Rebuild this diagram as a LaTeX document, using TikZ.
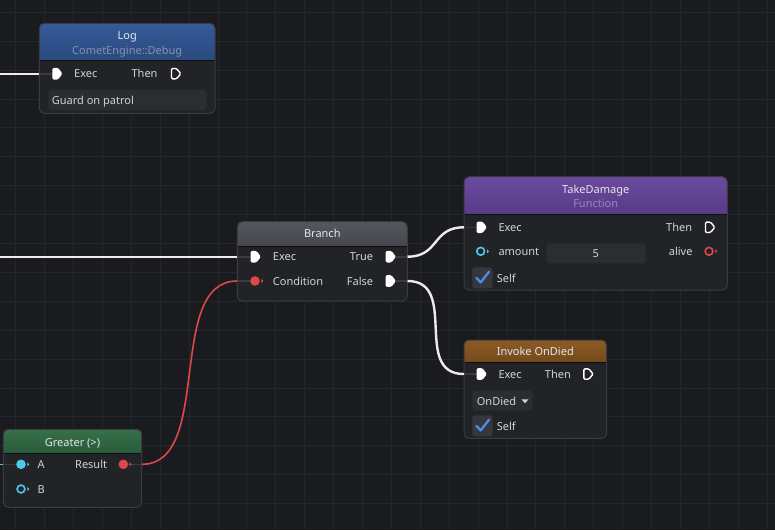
\documentclass[tikz,border=0pt]{standalone}
\usepackage{fontspec}
\setmainfont{Noto Sans}
\usetikzlibrary{fit}
\definecolor{bgc}{HTML}{1A1B1F}
\definecolor{gridc}{HTML}{25262B}
\definecolor{bodyc}{HTML}{222327}
\definecolor{borderc}{HTML}{3A3B41}
\definecolor{stubc}{HTML}{3A3B41}
\definecolor{fieldc}{HTML}{2C2D32}
\definecolor{labelc}{HTML}{D2D3D6}
\definecolor{titlec}{HTML}{E4E6EA}
\definecolor{loghA}{HTML}{36599A}
\definecolor{loghB}{HTML}{2A4A7C}
\definecolor{brhA}{HTML}{55565E}
\definecolor{brhB}{HTML}{45464E}
\definecolor{tdhA}{HTML}{6A4A9E}
\definecolor{tdhB}{HTML}{573A88}
\definecolor{invhA}{HTML}{8C5C26}
\definecolor{invhB}{HTML}{73481A}
\definecolor{grhA}{HTML}{367048}
\definecolor{grhB}{HTML}{2A5A3B}
\definecolor{logsub}{HTML}{8293B2}
\definecolor{tdsub}{HTML}{9985BA}
\definecolor{wirec}{HTML}{ECECEC}
\definecolor{redc}{HTML}{DD4848}
\definecolor{cyanc}{HTML}{4DC9EA}
\definecolor{checkc}{HTML}{4A8DE6}
\definecolor{boxc}{HTML}{35373D}
\newcommand{\lbfont}{\fontsize{11}{13}\selectfont}
\newcommand{\gbox}[8]{%
  \fill[bodyc, rounded corners=5pt] (#2,#3) rectangle (#4,#5);
  \begin{scope}
    \clip[rounded corners=5pt] (#2,#3) rectangle (#4,#5);
    \shade[top color=#7, bottom color=#8] (#2,#3) rectangle (#4,#6);
    \draw[black!60!bodyc, line width=1pt] (#2,#6) -- (#4,#6);
  \end{scope}
  \draw[borderc, line width=1pt, rounded corners=5pt] (#2,#3) rectangle (#4,#5);
  \node[fit={(#2,#3) (#4,#5)}, inner sep=0pt] (#1) {};
}
\tikzset{
  x=1pt, y=-1pt,
  lbl/.style={anchor=base west, inner sep=0pt, text=labelc, font=\lbfont},
  lbr/.style={anchor=base east, inner sep=0pt, text=labelc, font=\lbfont},
  ttl/.style={anchor=base, inner sep=0pt, text=titlec, font=\lbfont},
  wire/.style={wirec, line width=2.4pt},
  redwire/.style={redc, line width=1.6pt},
  stub/.style={stubc, line width=1.6pt},
  field/.style={fieldc, rounded corners=3pt},
  execF/.pic={\fill[white, rounded corners=1.3pt] (-5,-5.8) -- (0.8,-5.8) -- (5.2,0) -- (0.8,5.8) -- (-5,5.8) -- cycle;},
  execH/.pic={\draw[white, line width=1.4pt, rounded corners=1.2pt, line join=round] (-4.5,-5.2) -- (0.5,-5.2) -- (4.8,0) -- (0.5,5.2) -- (-4.5,5.2) -- cycle;},
  dataF/.pic={\fill[#1] (0,0) circle (4.8pt); \fill[#1] (6.3,-2) -- (8.3,0) -- (6.3,2) -- cycle;},
  dataH/.pic={\draw[#1, line width=1.6pt] (0,0) circle (3.9pt); \fill[#1] (6.3,-2) -- (8.3,0) -- (6.3,2) -- cycle;},
  checkbox/.pic={\fill[boxc, rounded corners=3pt] (-10.2,-10.5) rectangle (10.2,10.5);
     \draw[checkc, line width=2.3pt, line cap=round, line join=round] (-6,0.2) -- (-1.8,4.6) -- (6.6,-6.2);},
}
\begin{document}
\begin{tikzpicture}
\useasboundingbox (0,0) rectangle (775,530);
\fill[bgc] (0,0) rectangle (775,530);
\foreach \i in {0,...,26} {\draw[gridc, line width=1pt] ({15.7+28.9*\i},0) -- ({15.7+28.9*\i},530);}
\foreach \i in {0,...,18} {\draw[gridc, line width=1pt] (0,{12.3+28.9*\i}) -- (775,{12.3+28.9*\i});}

% ---------- Log ----------
\gbox{log}{39.3}{23.3}{215}{113.3}{60.7}{loghA}{loghB}
\node[ttl] (logT) at (127.2,39.6) {Log};
\node[ttl, text=logsub] (logS) at (127.2,54.2) {CometEngine::Debug};
\coordinate (logExec) at (57.3,73.7);
\coordinate (logThen) at (176,73.7);
\node[lbl] (logExecL) at (74,77.7) {Exec};
\node[lbr] (logThenL) at (157.7,77.7) {Then};
\fill[field] (48.3,90) rectangle (206.7,110);
\node[lbl] (logMsg) at (51.7,104) {Guard on patrol};

% ---------- Branch ----------
\gbox{br}{237.3}{221.7}{407.3}{301}{246}{brhA}{brhB}
\node[ttl] (brT) at (322.3,237.9) {Branch};
\coordinate (brExec) at (255.7,256.7);
\coordinate (brCond) at (255,281);
\coordinate (brTrue) at (390.7,256.7);
\coordinate (brFalse) at (390.7,281);
\node[lbl] (brExecL) at (272.7,260.7) {Exec};
\node[lbl] (brCondL) at (272.7,285) {Condition};
\node[lbr] (brTrueL) at (373.3,260.7) {True};
\node[lbr] (brFalseL) at (373.3,285) {False};

% ---------- TakeDamage ----------
\gbox{td}{464}{176.7}{727.3}{290}{214}{tdhA}{tdhB}
\node[ttl] (tdT) at (595.7,193.2) {TakeDamage};
\node[ttl, text=tdsub] (tdS) at (595.7,207.9) {Function};
\coordinate (tdExec) at (481.7,227.3);
\coordinate (tdThen) at (710,227.3);
\coordinate (tdAmt) at (480.7,251.3);
\coordinate (tdAlive) at (709,251.3);
\node[lbl] (tdExecL) at (498.3,231.3) {Exec};
\node[lbr] (tdThenL) at (692.3,231.3) {Then};
\node[lbl] (tdAmtL) at (498.3,255.3) {amount};
\fill[field] (546.7,243.3) rectangle (645.7,263.3);
\node[ttl, text=labelc] (tdAmtV) at (595.7,257.3) {5};
\node[lbr] (tdAliveL) at (692.7,255.3) {alive};
\coordinate (tdSelf) at (482.5,277.8);
\node[lbl] (tdSelfL) at (496.7,282.3) {Self};

% ---------- Invoke OnDied ----------
\gbox{inv}{464}{340}{606.7}{438.3}{362.7}{invhA}{invhB}
\node[ttl] (invT) at (535.3,355.6) {Invoke OnDied};
\coordinate (invExec) at (481.7,374);
\coordinate (invThen) at (588.3,374);
\node[lbl] (invExecL) at (498.3,378) {Exec};
\node[lbr] (invThenL) at (571,378) {Then};
\fill[field] (472.3,390.7) rectangle (532.7,410.7);
\node[lbl] (invDrop) at (476.7,405) {OnDied};
\fill[labelc] (521.5,399.3) -- (528.5,399.3) -- (525,403.3) -- cycle;
\coordinate (invSelf) at (482.5,425.8);
\node[lbl] (invSelfL) at (496.7,430) {Self};

% ---------- Greater ----------
\gbox{gr}{3.3}{429.3}{141.7}{507.3}{453.3}{grhA}{grhB}
\node[ttl] (grT) at (72.5,446.2) {Greater (>)};
\coordinate (grA) at (21,464.3);
\coordinate (grB) at (21,489);
\coordinate (grRes) at (123.3,464.3);
\node[lbl] (grAL) at (37.3,468.3) {A};
\node[lbl] (grBL) at (37.3,493) {B};
\node[lbr] (grResL) at (107.3,468.3) {Result};

% ---------- free wire ends ----------
\coordinate (inLog) at (0,73.7);
\coordinate (inBr) at (0,256.7);
\coordinate (inGr) at (0,464.3);

% ---------- stubs ----------
\draw[stub] (log.west |- logExec) -- (logExec);
\draw[stub] (br.west |- brExec) -- (brExec);
\draw[stub] (br.west |- brCond) -- (brCond);
\draw[stub] (brTrue) -- (br.east |- brTrue);
\draw[stub] (brFalse) -- (br.east |- brFalse);
\draw[stub] (td.west |- tdExec) -- (tdExec);
\draw[stub] (inv.west |- invExec) -- (invExec);
\draw[stub] (gr.west |- grA) -- (grA);
\draw[stub] (grRes) -- (gr.east |- grRes);

% ---------- wires ----------
\draw[wire] (inLog) -- (log.west |- logExec);
\draw[wire] (inBr) -- (br.west |- brExec);
\draw[cyanc, line width=1.6pt] (inGr) -- (gr.west |- grA);
\draw[wire] (br.east |- brTrue) .. controls +(32,0) and +(-32,0) .. (td.west |- tdExec);
\draw[wire] (br.east |- brFalse) .. controls +(52,0) and +(-52,0) .. (inv.west |- invExec);
\draw[redwire] (gr.east |- grRes) .. controls +(72,0) and +(-72,0) .. (br.west |- brCond);

% ---------- pins ----------
\pic at (logExec) {execF};
\pic at (logThen) {execH};
\pic at (brExec) {execF};
\pic at (brTrue) {execF};
\pic at (brFalse) {execF};
\pic at (brCond) {dataF=redc};
\pic at (tdExec) {execF};
\pic at (tdThen) {execH};
\pic at (tdAmt) {dataH=cyanc};
\pic at (tdAlive) {dataH=redc};
\pic at (tdSelf) {checkbox};
\pic at (invExec) {execF};
\pic at (invThen) {execH};
\pic at (invSelf) {checkbox};
\pic at (grA) {dataF=cyanc};
\pic at (grB) {dataH=cyanc};
\pic at (grRes) {dataF=redc};
\end{tikzpicture}
\end{document}
